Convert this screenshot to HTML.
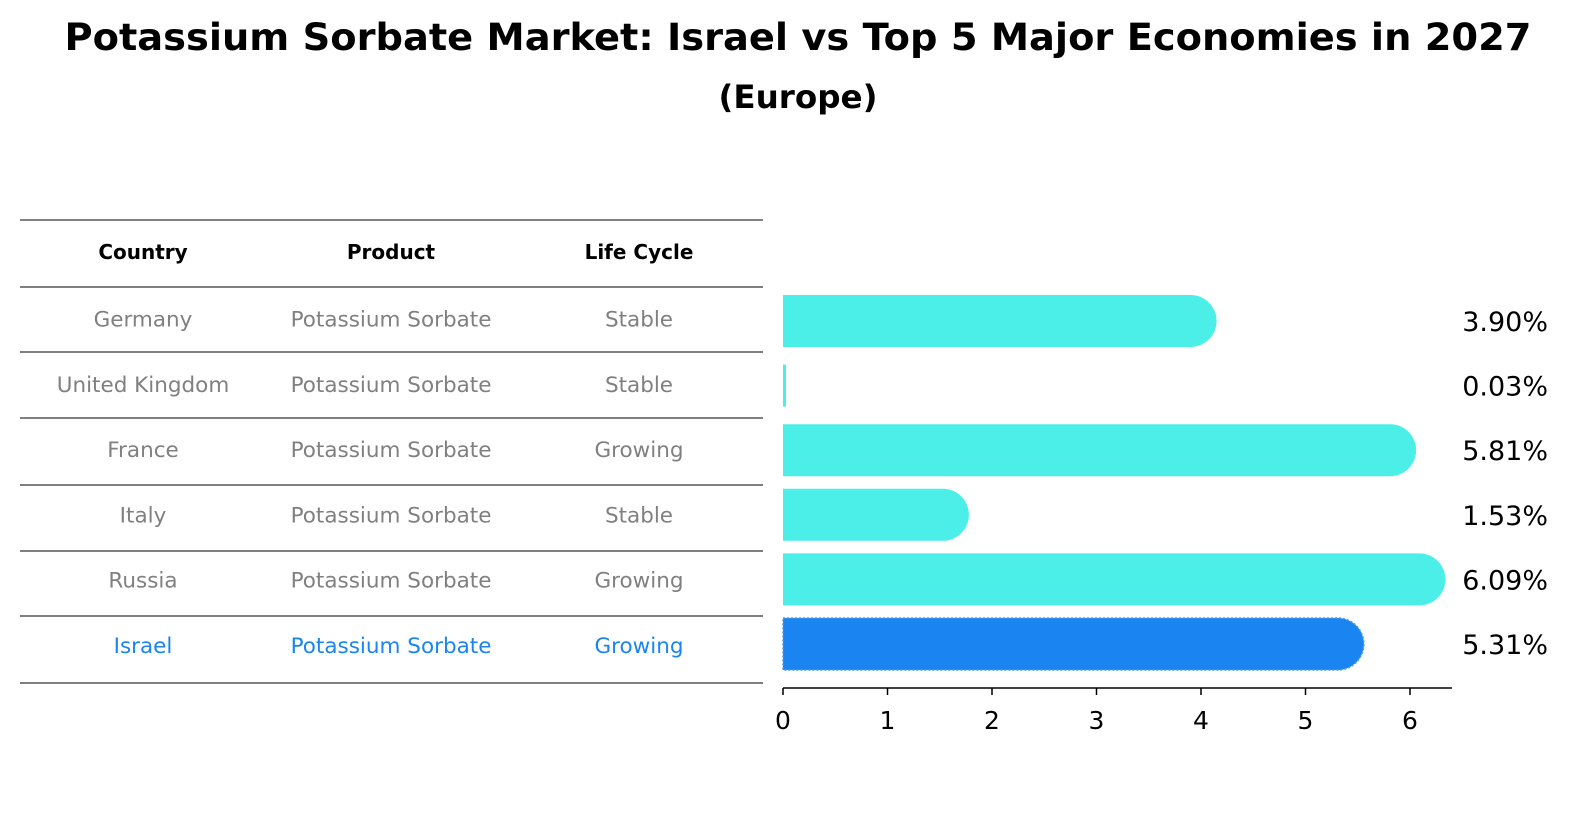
<!DOCTYPE html>
<html><head><meta charset="utf-8"><style>
body{margin:0;width:1586px;height:823px;background:#fff;font-family:"DejaVu Sans","Liberation Sans",sans-serif;overflow:hidden}
</style></head><body>
<svg width="1586" height="823" id="svg" font-family="'DejaVu Sans', 'Liberation Sans', sans-serif">
<text x="798" y="50" text-anchor="middle" font-size="37" font-weight="bold" textLength="1467" lengthAdjust="spacingAndGlyphs">Potassium Sorbate Market: Israel vs Top 5 Major Economies in 2027</text>
<text x="798" y="108" text-anchor="middle" font-size="32" font-weight="bold" textLength="159" lengthAdjust="spacingAndGlyphs">(Europe)</text>
<g id="table"></g>
<g id="bars"></g>
</svg>
<script>
const countries=["Germany","United Kingdom","France","Italy","Russia","Israel"];
const products=["Potassium Sorbate","Potassium Sorbate","Potassium Sorbate","Potassium Sorbate","Potassium Sorbate","Potassium Sorbate"];
const lifecycles=["Stable","Stable","Growing","Stable","Growing","Growing"];
const values=[3.90,0.03,5.81,1.53,6.09,5.31];
const ticks=[0,1,2,3,4,5,6];
const NS="http://www.w3.org/2000/svg";
function mk(t,a,p){const e=document.createElementNS(NS,t);for(const k in a)e.setAttribute(k,a[k]);p.appendChild(e);return e;}
const tbl=document.getElementById('table'),bars=document.getElementById('bars');
const lines=[220,287,352,418,485,551,616,683];
lines.forEach(y=>{const l=mk('line',{x1:20,x2:763,y1:y,y2:y,stroke:'#000','stroke-width':1},tbl);

});
const cx=[143,391,639];
["Country","Product","Life Cycle"].forEach((h,i)=>{const t=mk('text',{x:cx[i],y:259,'text-anchor':'middle','font-size':20,'font-weight':'bold'},tbl);t.textContent=h;

});
const rowY=i=>320.5+i*65.3;
countries.forEach((c,i)=>{[c,products[i],lifecycles[i]].forEach((v,j)=>{
const t=mk('text',{x:cx[j],y:rowY(i)+6,'text-anchor':'middle','font-size':21.5,fill:i==5?'#1a85f0':'#808080'},tbl);t.textContent=v;

});});
const x0=783,ppu=104.5,xs=v=>x0+v*ppu,bh=52;
const barY=i=>321+i*64.6;
values.forEach((v,i)=>{const y=barY(i)-bh/2,w=xs(v)-x0,col=i==5?'#1a85f0':'#4ceee8';
let b;
if(v<0.1){b=mk('rect',{x:x0,y:y+5,width:3,height:bh-10,fill:col},bars);}
else{const r=bh/2;b=mk('path',{d:`M${x0},${y}H${x0+w}A${r},${r} 0 0 1 ${x0+w}, ${y+bh}H${x0}Z`,fill:col},bars);
if(i==5){b.setAttribute('stroke','#4a9af0');b.setAttribute('stroke-dasharray','2,2');b.setAttribute('stroke-width','1.5');}}


const t=mk('text',{x:1548,y:barY(i)+10,'text-anchor':'end','font-size':27},bars);t.textContent=v.toFixed(2)+'%';

});
const ax=mk('line',{x1:x0,x2:1452,y1:688,y2:688,stroke:'#000','stroke-width':1.5},bars);


ticks.forEach(v=>{const l=mk('line',{x1:xs(v),x2:xs(v),y1:688,y2:695,stroke:'#000','stroke-width':1.5},bars);


const t=mk('text',{x:xs(v),y:729,'text-anchor':'middle','font-size':25},bars);t.textContent=v;

});
</script>
</body></html>
